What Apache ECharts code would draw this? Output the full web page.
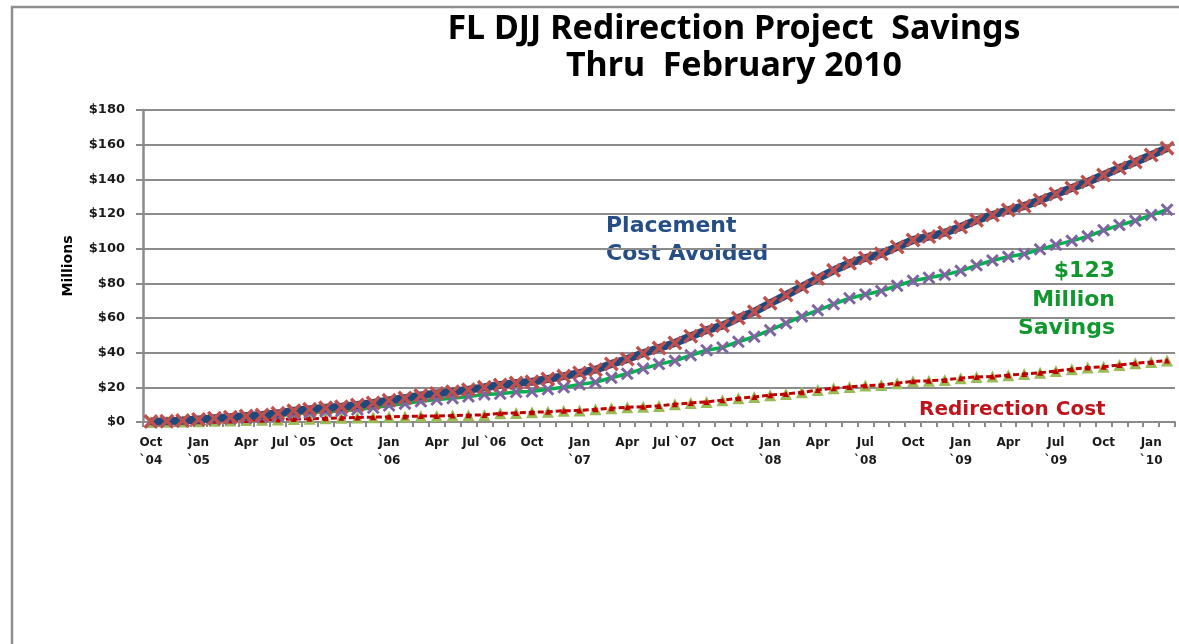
<!DOCTYPE html>
<html>
<head>
<meta charset="utf-8">
<script src="https://cdn.jsdelivr.net/npm/echarts@6/dist/echarts.min.js"></script>
<style>
  html, body { margin: 0; padding: 0; background: #fff; }
  #Js_savings { width: 1179px; height: 644px; }
</style>
</head>
<body>
<div id="Js_savings"></div>
<script>
// one entry per month, Oct 2004 .. Feb 2010
var tickLabels = [
  'Oct\n`04', '', '', 'Jan\n`05', '', '', 'Apr', '', '', 'Jul `05', '', '',
  'Oct', '', '', 'Jan\n`06', '', '', 'Apr', '', '', 'Jul `06', '', '',
  'Oct', '', '', 'Jan\n`07', '', '', 'Apr', '', '', 'Jul `07', '', '',
  'Oct', '', '', 'Jan\n`08', '', '', 'Apr', '', '', 'Jul\n`08', '', '',
  'Oct', '', '', 'Jan\n`09', '', '', 'Apr', '', '', 'Jul\n`09', '', '',
  'Oct', '', '', 'Jan\n`10', ''
]

// millions of dollars, cumulative
var costAvoided = [
  0.3, 0.5, 0.8, 1.5, 2.2, 2.8, 3.4, 4.0, 5.0, 6.5, 7.3, 8.2,
  8.8, 9.8, 11.0, 12.5, 13.8, 15.3, 16.5, 17.4, 18.6, 20.0, 21.3, 22.5,
  23.2, 24.8, 26.5, 28.3, 30.2, 33.5, 36.3, 39.6, 42.7, 45.6, 49.5, 53.0,
  55.6, 60.0, 63.6, 68.5, 73.2, 78.0, 82.8, 87.5, 91.6, 94.6, 97.0, 101.0,
  105.0, 107.0, 109.2, 112.5, 116.4, 119.4, 122.3, 124.6, 128.0, 131.6, 135.0, 138.5,
  142.5, 146.5, 150.0, 154.0, 158.0
]
var savings = [
  0.2, 0.3, 0.5, 1.0, 1.5, 1.9, 2.3, 2.7, 3.5, 4.8, 5.4, 6.1,
  6.4, 7.2, 8.2, 9.5, 10.6, 11.9, 13.0, 13.7, 14.7, 15.9, 16.3, 17.3,
  17.6, 18.9, 20.0, 21.7, 22.9, 25.5, 27.8, 30.8, 33.4, 35.3, 38.5, 41.4,
  43.0, 46.3, 49.2, 53.0, 57.0, 60.9, 64.4, 68.0, 71.4, 73.6, 75.6, 78.6,
  81.5, 83.2, 84.9, 87.2, 90.4, 93.2, 95.3, 96.9, 99.6, 102.2, 104.5, 107.1,
  110.6, 113.6, 116.1, 119.4, 122.5
]
var redirectionCost = [
  0, 0.2, 0.3, 0.5, 0.7, 0.9, 1.1, 1.3, 1.5, 1.7, 1.9, 2.1,
  2.4, 2.6, 2.8, 3.0, 3.2, 3.4, 3.5, 3.7, 3.9, 4.1, 5.0, 5.2,
  5.6, 5.9, 6.5, 6.6, 7.3, 8.0, 8.5, 8.8, 9.3, 10.3, 11.0, 11.6,
  12.6, 13.7, 14.4, 15.5, 16.2, 17.1, 18.4, 19.5, 20.2, 21.0, 21.4, 22.4,
  23.5, 23.8, 24.3, 25.3, 26.0, 26.2, 27.0, 27.7, 28.4, 29.4, 30.5, 31.4,
  31.9, 32.9, 33.9, 34.6, 35.5
]
var yTicks = [0, 20, 40, 60, 80, 100, 120, 140, 160, 180]

var crossMark = 'path://M0,1.6 L1.6,0 L5,3.4 L8.4,0 L10,1.6 L6.6,5 L10,8.4 L8.4,10 L5,6.6 L1.6,10 L0,8.4 L3.4,5 Z'
var labelFont = 'DejaVu Sans'

function savingsNote(txt, y) {
  return {
    type: 'text',
    x: 1115,
    y: y,
    style: {
      text: txt,
      font: 'bold 22px "DejaVu Sans"',
      align: 'right',
      verticalAlign: 'middle',
      fill: '#12972f'
    }
  }
}

var myChart = echarts.init(document.getElementById('Js_savings'))
var option = {
  backgroundColor: '#fff',
  animation: false,
  title: {
    text: 'FL DJJ Redirection Project  Savings\nThru  February 2010',
    left: 729,
    top: 6,
    textAlign: 'center',
    textStyle: {
      fontFamily: 'Noto Sans',
      fontWeight: 'bold',
      fontSize: 34,
      lineHeight: 37,
      color: '#000'
    }
  },
  grid: { left: 143, right: 4, top: 110, bottom: 222 },
  xAxis: {
    type: 'category',
    data: tickLabels,
    boundaryGap: true,
    axisLine: { lineStyle: { color: '#8a8a8a', width: 2 } },
    axisTick: { show: true, interval: 0, length: 5, lineStyle: { color: '#8a8a8a', width: 2 } },
    axisLabel: {
      interval: 0,
      margin: 12,
      fontFamily: labelFont,
      fontWeight: 'bold',
      fontSize: 12,
      lineHeight: 18,
      color: '#1a1a1a'
    }
  },
  yAxis: {
    type: 'value',
    min: yTicks[0],
    max: yTicks[yTicks.length - 1],
    interval: yTicks[1] - yTicks[0],
    name: 'Millions',
    nameLocation: 'middle',
    nameRotate: 90,
    nameGap: 68,
    nameTextStyle: { fontFamily: labelFont, fontWeight: 'bold', fontSize: 14, color: '#000' },
    axisLine: { show: true, lineStyle: { color: '#8a8a8a', width: 2.5 } },
    axisTick: { show: true, length: 7, lineStyle: { color: '#8a8a8a', width: 2 } },
    axisLabel: {
      margin: 18,
      fontFamily: labelFont,
      fontWeight: 'bold',
      fontSize: 13,
      color: '#1a1a1a',
      formatter: function (v) { return '$' + v }
    },
    splitLine: { lineStyle: { color: '#8c8c8c', width: 2 } }
  },
  series: [
    {
      name: 'Redirection Cost base',
      type: 'line',
      data: redirectionCost,
      symbol: 'triangle',
      symbolSize: 12,
      itemStyle: { color: '#9bbb59' },
      lineStyle: { width: 0, opacity: 0 },
      z: 2
    },
    {
      name: 'Redirection Cost',
      type: 'line',
      data: redirectionCost,
      symbol: 'triangle',
      symbolSize: 6,
      itemStyle: { color: '#c00000' },
      lineStyle: { color: '#c00000', width: 3, type: [6, 3] },
      z: 3
    },
    {
      name: 'Savings',
      type: 'line',
      data: savings,
      symbol: crossMark,
      symbolSize: 13,
      itemStyle: { color: '#8064a2' },
      lineStyle: { color: '#00b050', width: 3.5 },
      z: 4
    },
    {
      name: 'Placement Cost Avoided',
      type: 'line',
      data: costAvoided,
      symbol: crossMark,
      symbolSize: 15,
      itemStyle: { color: '#c0504d' },
      lineStyle: { color: '#1f497d', width: 8 },
      z: 5
    }
  ],
  graphic: [
    {
      type: 'rect',
      shape: { x: 12, y: 7, width: 1400, height: 900 },
      style: { fill: 'none', stroke: '#8f8f8f', lineWidth: 2.5 },
      silent: true
    },
    {
      type: 'text',
      left: 606,
      top: 212,
      style: {
        text: 'Placement\nCost Avoided',
        font: 'bold 22px "DejaVu Sans"',
        lineHeight: 28,
        fill: '#254e86'
      }
    },
    savingsNote('$123', 271),
    savingsNote('Million', 300),
    savingsNote('Savings', 328),
    {
      type: 'text',
      left: 919,
      top: 400,
      style: {
        text: 'Redirection Cost',
        font: 'bold 20px "DejaVu Sans"',
        fill: '#c0141c'
      }
    }
  ]
}

myChart.setOption(option)
</script>
</body>
</html>
